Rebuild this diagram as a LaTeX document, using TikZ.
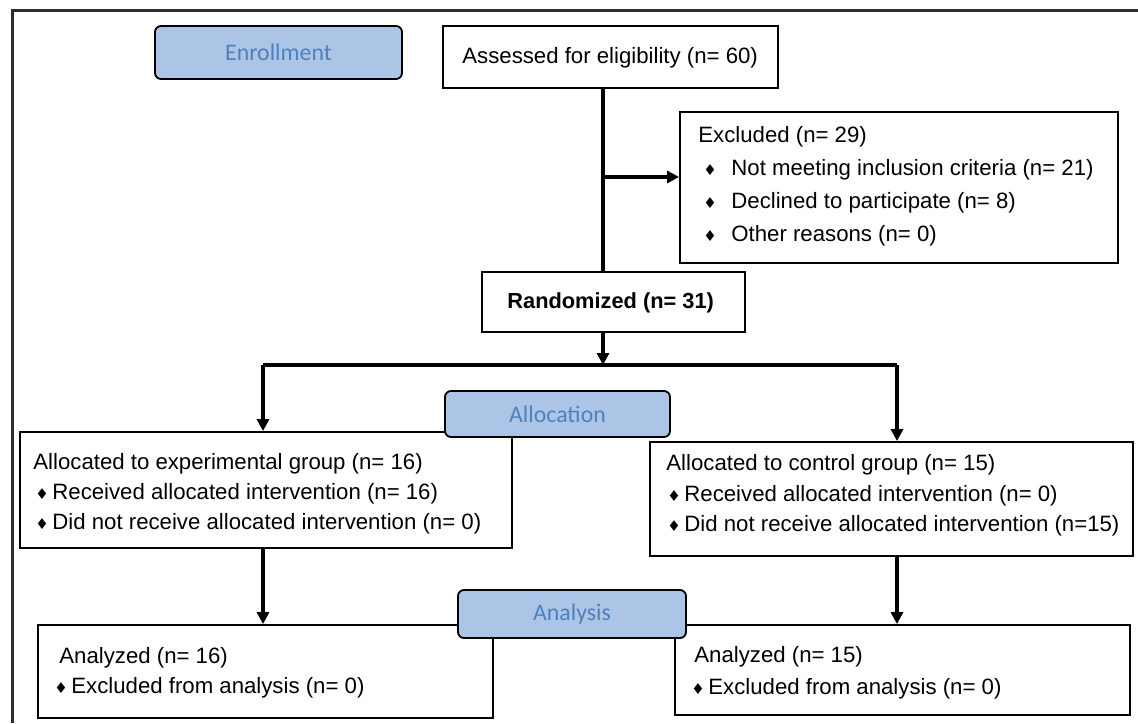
\documentclass[tikz,border=0pt]{standalone}
\usepackage{fontspec}
\setmainfont{Liberation Sans}
\newfontfamily\lblfont{Carlito}
\newfontfamily\dejavu{DejaVu Sans}
\usetikzlibrary{arrows.meta,fit}
\definecolor{lblfill}{RGB}{172,196,230}
\definecolor{lbltext}{RGB}{79,129,189}
\definecolor{framec}{RGB}{45,45,45}
\newcommand\bul[1]{\makebox[#1][l]{\dejavu\fontsize{7.5}{7.5}\selectfont ♦}}
\begin{document}
\begin{tikzpicture}[x=0.5pt,y=-0.5pt,
 box/.style={draw=black,line width=0.9pt,inner sep=0pt,fill=white},
 lbl/.style={draw=black,line width=0.9pt,inner sep=0pt,fill=lblfill,rounded corners=3pt,text=lbltext,font=\lblfont\fontsize{11.9}{14}\selectfont},
 txt/.style={inner sep=0pt,anchor=base west,font=\fontsize{11.1}{13}\selectfont},
 conn/.style={line width=1.8pt,draw=black},
 arr/.style={conn,-{Triangle[length=6pt,width=6pt]}}]
\useasboundingbox (0,0) rectangle (1138,723);
\draw[framec,line width=1.5pt] (12,723) -- (12,10) -- (1138,10);

% boxes
\node[box,fit={(443,26) (778,88)}] (assess) {};
\node[box,fit={(680,112) (1118,263)}] (excl) {};
\node[box,fit={(482,272) (745,332)}] (rand) {};
\node[box,fit={(20,432) (512,548)}] (allocL) {};
\node[box,fit={(650,442) (1133,556)}] (allocR) {};
\node[box,fit={(38,625) (493,718)}] (anaL) {};
\node[box,fit={(675,625) (1130,715)}] (anaR) {};

% texts
\node[txt] (tAssess) at (462,63) {Assessed for eligibility (n= 60)};
\node[txt] (tEx0) at (698,142) {Excluded (n= 29)};
\node[txt] (tEx1) at (703,175) {\bul{14pt}Not meeting inclusion criteria (n= 21)};
\node[txt] (tEx2) at (703,208) {\bul{14pt}Declined to participate (n= 8)};
\node[txt] (tEx3) at (703,241) {\bul{14pt}Other reasons (n= 0)};
\node[txt,font=\bfseries\fontsize{10.9}{13}\selectfont] (tRand) at (507,308) {Randomized (n= 31)};
\node[txt] (tL0) at (33,469) {Allocated to experimental group (n= 16)};
\node[txt] (tL1) at (35,499) {\bul{8.5pt}Received allocated intervention (n= 16)};
\node[txt] (tL2) at (35,529) {\bul{8.5pt}Did not receive allocated intervention (n= 0)};
\node[txt] (tR0) at (666,470) {Allocated to control group (n= 15)};
\node[txt] (tR1) at (667,501) {\bul{8.5pt}Received allocated intervention (n= 0)};
\node[txt] (tR2) at (667,531) {\bul{8.5pt}Did not receive allocated intervention (n=15)};
\node[txt] (tAL0) at (59,663) {Analyzed (n= 16)};
\node[txt] (tAL1) at (54,693) {\bul{8.5pt}Excluded from analysis (n= 0)};
\node[txt] (tAR0) at (694,662) {Analyzed (n= 15)};
\node[txt] (tAR1) at (691,694) {\bul{8.5pt}Excluded from analysis (n= 0)};

% connectors
\coordinate (tk) at (603,177);
\coordinate (split) at (603,365);
\coordinate (sl) at (263,365);
\coordinate (sr) at (897,365);
\draw[conn] (assess.south -| tk) -- (rand.north -| tk);
\draw[arr] (tk) -- (tk -| excl.west);
\draw[arr] (rand.south -| split) -- (split);
\draw[conn] (sl) -- (sr);
\draw[arr] (sl) -- (sl |- allocL.north);
\draw[arr] (sr) -- (sr |- allocR.north);
\draw[arr] (allocL.south -| sl) -- (sl |- anaL.north);
\draw[arr] (allocR.south -| sr) -- (sr |- anaR.north);

% stage labels
\node[lbl,minimum width=123.5pt,minimum height=26.5pt] (lEnr) at (278.5,52.5) {Enrollment};
\node[lbl,minimum width=112.5pt,minimum height=23pt] (lAll) at (557.5,414) {Allocation};
\node[lbl,minimum width=114pt,minimum height=24pt] (lAna) at (572,614) {Analysis};
\end{tikzpicture}
\end{document}
